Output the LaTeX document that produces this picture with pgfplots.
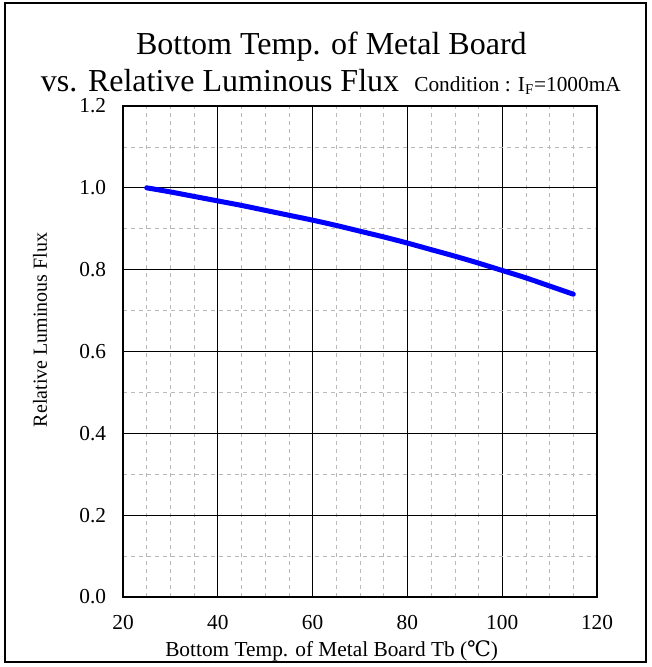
\documentclass[border=0pt]{standalone}
\usepackage{fontspec}
\setmainfont{Liberation Serif}
\newfontfamily\symfont{DejaVu Serif}
\usepackage{pgfplots}
\pgfplotsset{compat=1.18}
\begin{document}
\begin{tikzpicture}[x=1pt,y=1pt]
\useasboundingbox (0,0) rectangle (488.25,500.25);
\draw[line width=1.5pt] (3.75,3.75) rectangle (484.5,498);
\begin{axis}[
  at={(92.25pt,52.5pt)}, anchor=south west,
  scale only axis, width=355.5pt, height=368.25pt,
  xmin=20, xmax=120, ymin=0, ymax=1.2,
  xtick={20,40,60,80,100,120},
  ytick={0,0.2,0.4,0.6,0.8,1.0,1.2},
  minor x tick num=3, minor y tick num=1,
  grid=both,
  major grid style={black, line width=0.5pt},
  minor grid style={gray!55, dashed, line width=0.4pt},
  axis line style={line width=0.8pt},
  major tick length=0pt, minor tick length=0pt,
  tick label style={font=\fontsize{16}{18}\selectfont, inner sep=0.5pt},
  /pgf/number format/assume math mode=true,
  yticklabel style={/pgf/number format/fixed, /pgf/number format/fixed zerofill, /pgf/number format/precision=1, xshift=-12pt},
  xticklabel style={yshift=-13pt},
]
\addplot[color={rgb,255:red,0;green,0;blue,255}, line width=3.75pt, smooth, line cap=round] coordinates {
(25,1.000) (30,0.990) (35,0.979) (40,0.968) (45,0.957) (50,0.945) (55,0.933)
(60,0.921) (65,0.908) (70,0.894) (75,0.880) (80,0.865) (85,0.849) (90,0.833)
(95,0.816) (100,0.798) (105,0.780) (110,0.760) (115,0.740)
};
\end{axis}
\node[anchor=base, font=\fontsize{24}{28}\selectfont, inner sep=0pt] at (248.5,459.5) {Bottom Temp. of Metal Board};
\node[anchor=base west, font=\fontsize{24}{28}\selectfont, inner sep=0pt] at (30.5,431.75) {vs. Relative Luminous Flux};
\node[anchor=base west, font=\fontsize{16}{18}\selectfont, inner sep=0pt] at (310.5,431.75) {Condition : I\textsubscript{F}=1000mA};
\node[anchor=base west, font=\fontsize{16}{18}\selectfont, inner sep=0pt] at (123.75,7.5) {Bottom Temp. of Metal Board Tb ({\symfont ℃})};
\node[rotate=90, font=\fontsize{15}{18}\selectfont, inner sep=0pt] at (30,252.75) {Relative Luminous Flux};
\end{tikzpicture}
\end{document}
